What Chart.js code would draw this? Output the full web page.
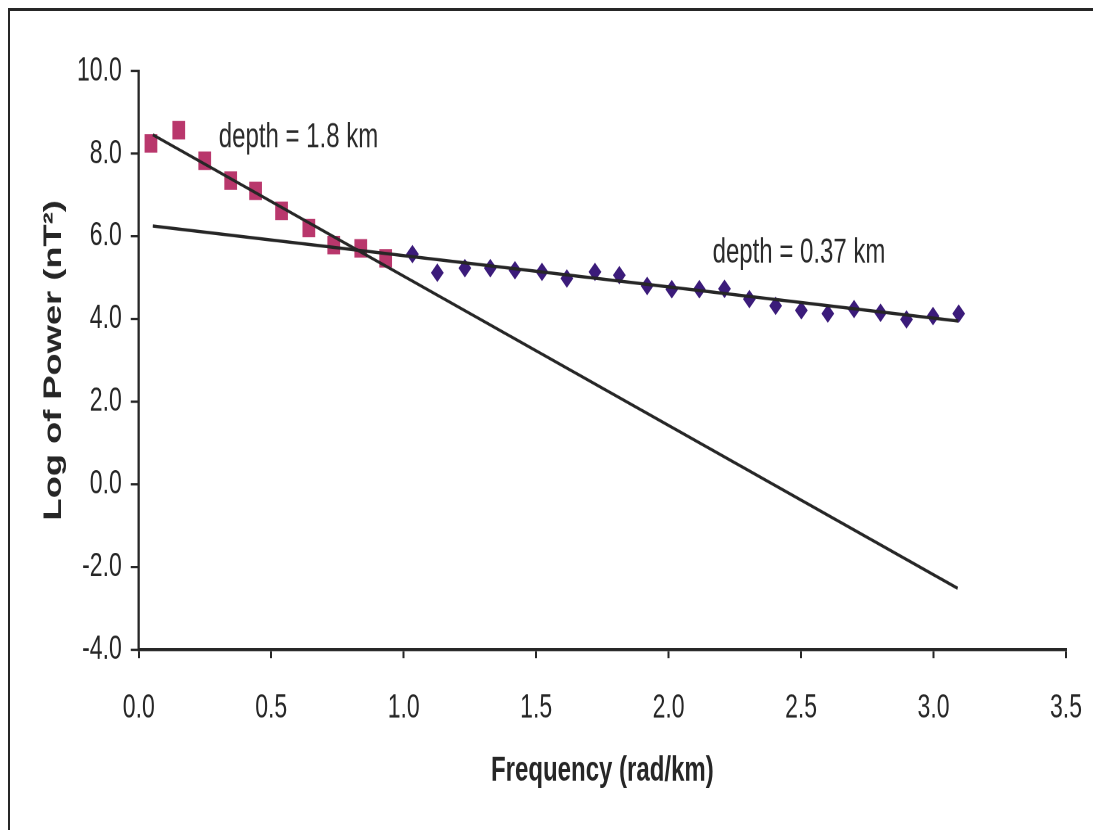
<!DOCTYPE html>
<html>
<head>
<meta charset="utf-8">
<script src="https://cdn.jsdelivr.net/npm/chart.js@4.4.1/dist/chart.umd.min.js"></script>
<style>
html, body { margin: 0; padding: 0; background: #fff; overflow: hidden; width: 1093px; height: 830px; }
/* the original figure is stretched vertically, so draw flatter and stretch */
#wrap { width: 1093px; height: 572px; transform: scaleY(1.451); transform-origin: 0 0; }
#spectre { display: block; }
</style>
</head>
<body>
<div id="wrap"><canvas id="spectre" width="1093" height="572"></canvas></div>
<script>
// low frequency part (deep source)
const deepFreq = [0.046, 0.151, 0.249, 0.347, 0.441, 0.539, 0.642, 0.736, 0.838, 0.932];
const deepPower = [8.25, 8.57, 7.83, 7.35, 7.10, 6.62, 6.20, 5.79, 5.71, 5.47];

// high frequency part (shallow source)
const shallowFreq = [1.033, 1.127, 1.231, 1.327, 1.420, 1.522, 1.616, 1.722, 1.814, 1.919, 2.012,
    2.116, 2.211, 2.305, 2.404, 2.501, 2.601, 2.700, 2.800, 2.898, 2.998, 3.095];
const shallowPower = [5.57, 5.12, 5.23, 5.23, 5.18, 5.14, 4.98, 5.14, 5.06, 4.80, 4.72,
    4.72, 4.73, 4.48, 4.32, 4.21, 4.13, 4.24, 4.15, 3.99, 4.07, 4.13];

// fitted lines (end points)
const deepFitFreq = [0.053, 3.091];
const deepFitPower = [8.46, -2.52];
const shallowFitFreq = [0.053, 3.093];
const shallowFitPower = [6.25, 3.95];

const depthLabels = ["depth = 1.8 km", "depth = 0.37 km"];
const xTicks = [0, 0.5, 1.0, 1.5, 2.0, 2.5, 3.0, 3.5];
const yTicks = [-4, -2, 0, 2, 4, 6, 8, 10];

const toPoints = (xs, ys) => xs.map((v, i) => ({ x: v, y: ys[i] }));

const police = '"Liberation Sans", Arial, sans-serif';
const encre = '#262626';

const cadre = {
    id: 'cadre',
    beforeDraw(chart) {
        const ctx = chart.ctx;
        ctx.save();
        ctx.strokeStyle = encre;
        ctx.lineWidth = 2;
        ctx.beginPath();
        ctx.moveTo(9, chart.height);
        ctx.lineTo(9, 6.5);
        ctx.lineTo(chart.width, 6.5);
        ctx.stroke();
        ctx.restore();
    },
    afterDatasetsDraw(chart) {
        const { ctx, scales: { x, y } } = chart;
        ctx.save();
        ctx.font = '24px ' + police;
        ctx.fillStyle = '#2b2b2b';
        ctx.textBaseline = 'alphabetic';
        ctx.fillText(depthLabels[0], x.getPixelForValue(0.302), y.getPixelForValue(8.15));
        ctx.fillText(depthLabels[1], x.getPixelForValue(2.166), y.getPixelForValue(5.37));
        ctx.restore();
    }
};

const chartSpectre = new Chart(document.getElementById('spectre'), {
    type: 'scatter',
    data: {
        datasets: [{
            data: toPoints(deepFitFreq, deepFitPower),
            showLine: true,
            borderColor: encre,
            borderWidth: 2.2,
            pointRadius: 0,
            order: 0
        }, {
            data: toPoints(shallowFitFreq, shallowFitPower),
            showLine: true,
            borderColor: encre,
            borderWidth: 2.2,
            pointRadius: 0,
            order: 0
        }, {
            data: toPoints(deepFreq, deepPower),
            pointStyle: 'rect',
            pointRadius: 9,
            backgroundColor: '#b9376c',
            borderWidth: 0,
            order: 1
        }, {
            data: toPoints(shallowFreq, shallowPower),
            pointStyle: 'rectRot',
            pointRadius: 6.4,
            backgroundColor: '#3b1b7a',
            borderWidth: 0,
            order: 1
        }]
    },
    options: {
        animation: false,
        responsive: false,
        devicePixelRatio: 2,
        layout: {
            padding: { left: 16, right: 27, top: 49, bottom: 5 }
        },
        plugins: {
            legend: { display: false },
            tooltip: { enabled: false }
        },
        scales: {
            x: {
                type: 'linear',
                min: 0,
                max: 3.5,
                afterBuildTicks: axis => { axis.ticks = xTicks.map(v => ({ value: v })); },
                // the label gap is not wanted as side padding
                afterFit: axis => { axis.paddingLeft = 0; axis.paddingRight = 0; },
                ticks: {
                    color: encre,
                    font: { family: police, size: 23 },
                    padding: 21,
                    maxRotation: 0,
                    callback: v => v.toFixed(1)
                },
                grid: { drawOnChartArea: false, drawTicks: true, tickLength: 6, color: encre, lineWidth: 2 },
                border: { display: true, color: encre, width: 2.3 },
                title: {
                    display: true,
                    text: 'Frequency (rad/km)',
                    color: encre,
                    font: { family: police, size: 24, weight: 'bold' },
                    padding: { top: -6, bottom: 21 }
                }
            },
            y: {
                type: 'linear',
                min: -4,
                max: 10,
                afterBuildTicks: axis => { axis.ticks = yTicks.map(v => ({ value: v })); },
                ticks: {
                    color: encre,
                    font: { family: police, size: 23 },
                    padding: 9,
                    callback: v => v.toFixed(1)
                },
                grid: { drawOnChartArea: false, drawTicks: true, tickLength: 8, color: encre, lineWidth: 1.6 },
                border: { display: true, color: encre, width: 2.3 },
                title: {
                    display: true,
                    text: 'Log of Power (nT²)',
                    color: encre,
                    font: { family: police, size: 25, weight: 'bold' },
                    padding: { top: 23, bottom: -1 }
                }
            }
        }
    },
    plugins: [cadre]
});
</script>
</body>
</html>
